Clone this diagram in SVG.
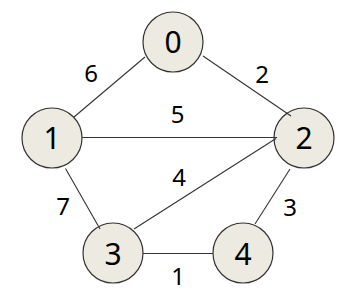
<svg xmlns="http://www.w3.org/2000/svg" width="361" height="302" viewBox="0 0 361 302">
<style>
.node circle{fill:#ECEAE1;stroke:#333;stroke-width:1.2}
.node text{font-family:"Noto Sans","Open Sans",sans-serif;font-size:30px;fill:#000;text-anchor:middle}
.edges line{stroke:#333;stroke-width:1.1}
.lbl{font-family:"Noto Sans","Open Sans",sans-serif;font-size:24px;fill:#000;text-anchor:middle}
</style>
<rect width="361" height="302" fill="#fff"/>
<g id="node0" class="node"><circle cx="173" cy="42" r="30"/><text x="173" y="53">0</text></g>
<g id="node1" class="node"><circle cx="52" cy="138" r="30"/><text x="52" y="148.5">1</text></g>
<g id="node2" class="node"><circle cx="304" cy="138" r="30"/><text x="304" y="148.5">2</text></g>
<g id="node3" class="node"><circle cx="113" cy="253" r="30"/><text x="113" y="264.5">3</text></g>
<g id="node4" class="node"><circle cx="243" cy="253" r="30"/><text x="243" y="264.5">4</text></g>
<g id="edges" class="edges">
<line x1="145" y1="57" x2="74" y2="117"/>
<line x1="203" y1="56" x2="291" y2="116"/>
<line x1="82" y1="137.5" x2="277" y2="137.5"/>
<line x1="134" y1="229" x2="276" y2="138.5"/>
<line x1="65.5" y1="168.5" x2="100" y2="229"/>
<line x1="290" y1="169" x2="255" y2="224"/>
<line x1="143" y1="253.5" x2="213" y2="253.5"/>
</g>
<g id="labels">
<text class="lbl" x="91" y="81.5">6</text>
<text class="lbl" x="262" y="82.5">2</text>
<text class="lbl" x="177.5" y="123">5</text>
<text class="lbl" x="179" y="186">4</text>
<text class="lbl" x="63" y="215">7</text>
<text class="lbl" x="290" y="216">3</text>
<text class="lbl" x="178" y="285">1</text>
</g>
</svg>
